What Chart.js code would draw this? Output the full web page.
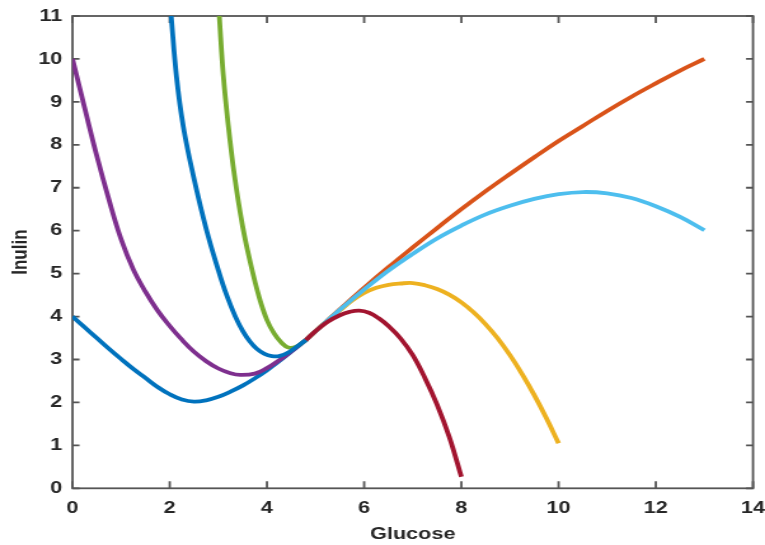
<!DOCTYPE html>
<html>
<head>
<meta charset="utf-8">
<script src="https://cdn.jsdelivr.net/npm/chart.js@4.4.1/dist/chart.umd.min.js"></script>
<style>
    html, body { margin: 0; padding: 0; background: #fff; overflow: hidden; }
    /* the original figure is stretched sideways, so the chart is drawn narrow and widened */
    #wrap { width: 602px; height: 545px; transform: scaleX(1.2708); transform-origin: 0 0; }
</style>
</head>
<body>
<div id="wrap"><canvas id="plot" width="602" height="545"></canvas></div>
<script>
// Glucose (x) vs Inulin (y)

const xTicks = [0, 2, 4, 6, 8, 10, 12, 14];
const yTicks = [0, 1, 2, 3, 4, 5, 6, 7, 8, 9, 10, 11];

const blueLowX = [0, 0.25, 0.5, 0.75, 1, 1.25, 1.5, 1.75, 2, 2.25, 2.5, 2.75, 3, 3.25, 3.5, 3.75, 4, 4.25, 4.5, 4.8];
const blueLowY = [4, 3.75, 3.5, 3.25, 3.01, 2.78, 2.57, 2.36, 2.19, 2.07, 2.02, 2.05, 2.13, 2.25, 2.39, 2.56, 2.75, 2.96, 3.18, 3.45];

const orangeX = [4.8, 5, 5.5, 6, 6.5, 7, 7.5, 8, 8.5, 9, 9.5, 10, 10.5, 11, 11.5, 12, 12.5, 13];
const orangeY = [3.45, 3.66, 4.17, 4.67, 5.15, 5.61, 6.06, 6.5, 6.92, 7.32, 7.71, 8.09, 8.44, 8.79, 9.12, 9.43, 9.73, 10];

const yellowX = [4.8, 5, 5.25, 5.5, 5.75, 6, 6.25, 6.5, 6.75, 7, 7.25, 7.5, 7.75, 8, 8.25, 8.5, 8.75, 9, 9.25, 9.5, 9.75, 10];
const yellowY = [3.45, 3.66, 3.91, 4.14, 4.37, 4.55, 4.67, 4.74, 4.77, 4.78, 4.73, 4.64, 4.51, 4.33, 4.1, 3.82, 3.49, 3.1, 2.66, 2.17, 1.63, 1.05];

const purpleX = [0, 0.25, 0.5, 0.75, 1, 1.25, 1.5, 1.75, 2, 2.25, 2.5, 2.75, 3, 3.25, 3.45, 3.75, 4, 4.25, 4.5, 4.8];
const purpleY = [10, 8.86, 7.74, 6.72, 5.8, 5.1, 4.58, 4.14, 3.78, 3.46, 3.18, 2.96, 2.79, 2.68, 2.64, 2.67, 2.8, 2.98, 3.19, 3.45];

const greenX = [3.02, 3.1, 3.2, 3.33, 3.5, 3.67, 3.84, 4, 4.15, 4.3, 4.44, 4.6, 4.8];
const greenY = [11, 9.65, 8.5, 7.3, 6.1, 5.2, 4.45, 3.92, 3.6, 3.39, 3.28, 3.3, 3.45];

const lightBlueX = [4.8, 5, 5.5, 6, 6.5, 7, 7.5, 8, 8.5, 9, 9.5, 10, 10.5, 11, 11.5, 12, 12.5, 13];
const lightBlueY = [3.45, 3.66, 4.16, 4.63, 5.07, 5.46, 5.82, 6.12, 6.38, 6.58, 6.74, 6.85, 6.9, 6.87, 6.76, 6.57, 6.32, 6.01];

const redX = [4.8, 5, 5.25, 5.5, 5.7, 5.9, 6.1, 6.3, 6.5, 6.75, 7, 7.25, 7.5, 7.75, 8];
const redY = [3.45, 3.66, 3.88, 4.03, 4.11, 4.14, 4.09, 3.96, 3.78, 3.49, 3.1, 2.57, 1.95, 1.2, 0.27];

const blueHighX = [2.03, 2.14, 2.28, 2.49, 2.76, 3, 3.17, 3.35, 3.51, 3.65, 3.79, 3.95, 4.1, 4.25, 4.45, 4.8];
const blueHighY = [11, 9.58, 8.42, 7.26, 6.0, 5.08, 4.5, 4.0, 3.65, 3.42, 3.25, 3.13, 3.08, 3.08, 3.17, 3.45];

// plotted in this order, later ones end up on top
const curves = [
    { xs: blueLowX, ys: blueLowY, color: '#0072BD' },
    { xs: orangeX, ys: orangeY, color: '#D95319' },
    { xs: yellowX, ys: yellowY, color: '#EDB120' },
    { xs: purpleX, ys: purpleY, color: '#7E2F8E' },
    { xs: greenX, ys: greenY, color: '#77AC30' },
    { xs: lightBlueX, ys: lightBlueY, color: '#4DBEEE' },
    { xs: redX, ys: redY, color: '#A2142F' },
    { xs: blueHighX, ys: blueHighY, color: '#0072BD' }
];

const textColor = '#262626';
const axisFont = { family: '"Liberation Sans", Arial, sans-serif', size: 17, weight: 'bold' };

// box round the plot with inward ticks on all four sides
const framePlugin = {
    id: 'frame',
    beforeDatasetsDraw(chart) {
        const { ctx, chartArea: a, scales } = chart;
        ctx.save();
        ctx.strokeStyle = '#555';
        ctx.lineWidth = 1.8;
        ctx.strokeRect(a.left, a.top, a.right - a.left, a.bottom - a.top);
        ctx.beginPath();
        xTicks.forEach(v => {
            const px = scales.x.getPixelForValue(v);
            ctx.moveTo(px, a.bottom); ctx.lineTo(px, a.bottom - 7);
            ctx.moveTo(px, a.top); ctx.lineTo(px, a.top + 7);
        });
        yTicks.forEach(v => {
            const py = scales.y.getPixelForValue(v);
            ctx.moveTo(a.left, py); ctx.lineTo(a.left + 5.5, py);
            ctx.moveTo(a.right, py); ctx.lineTo(a.right - 5.5, py);
        });
        ctx.stroke();
        ctx.restore();
    }
};

new Chart(document.getElementById('plot'), {
    type: 'scatter',
    data: {
        datasets: curves.map((c, i) => ({
            data: c.xs.map((x, k) => ({ x: x, y: c.ys[k] })),
            showLine: true,
            borderColor: c.color,
            backgroundColor: c.color,
            borderWidth: 3.8,
            pointRadius: 0,
            tension: 0.4,
            order: -i
        }))
    },
    options: {
        responsive: false,
        animation: false,
        devicePixelRatio: 1,
        events: [],
        layout: { padding: { left: 0, right: 0, top: 16, bottom: 0 } },
        plugins: { legend: { display: false }, tooltip: { enabled: false } },
        scales: {
            x: {
                type: 'linear',
                min: 0,
                max: 14,
                // tick marks are drawn by the frame plugin; tickLength only spaces the labels
                grid: { display: false, drawTicks: true, tickLength: 10 },
                border: { display: false },
                afterBuildTicks: s => { s.ticks = xTicks.map(v => ({ value: v })); },
                afterFit: s => { s.height = 56.7; },
                ticks: { color: textColor, font: axisFont, padding: 0, maxRotation: 0, autoSkip: false },
                title: { display: true, text: 'Glucose', color: textColor, font: axisFont, padding: { top: 0.8, bottom: 0 } }
            },
            y: {
                type: 'linear',
                min: 0,
                max: 11,
                grid: { display: false, drawTicks: true, tickLength: 8 },
                border: { display: false },
                afterBuildTicks: s => { s.ticks = yTicks.map(v => ({ value: v })); },
                afterFit: s => { s.width = 57.05; },
                ticks: { color: textColor, font: axisFont, padding: 0, autoSkip: false },
                title: { display: true, text: 'Inulin', color: textColor, font: axisFont, padding: { top: 5.9, bottom: 0 } }
            }
        }
    },
    plugins: [framePlugin]
});
</script>
</body>
</html>
